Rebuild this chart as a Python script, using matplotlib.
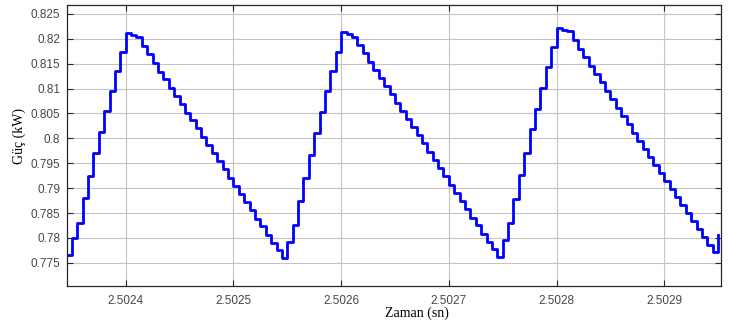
import numpy as np
import matplotlib
matplotlib.use("Agg")
import matplotlib.pyplot as plt

# zaman: 5 mikrosaniye adimla ornekler, 2.50234 sn'den baslar
t0 = 2.50234
dt = 5e-6

# guc degerleri (kW)
rise1 = [0.7782, 0.7766, 0.7799, 0.7830, 0.7880, 0.7925, 0.7971, 0.8013,
         0.8055, 0.8096, 0.8135, 0.8174, 0.8211]
fall1 = [0.8208, 0.8204, 0.8186, 0.8169, 0.8151, 0.8134, 0.8119, 0.8102,
         0.8085, 0.8069, 0.8052, 0.8036, 0.8020, 0.8003, 0.7987, 0.7970,
         0.7954, 0.7938, 0.7921, 0.7905, 0.7888, 0.7872, 0.7856, 0.7839,
         0.7823, 0.7806, 0.7790, 0.7776, 0.7759]
rise2 = [0.7792, 0.7826, 0.7875, 0.7921, 0.7967, 0.8011, 0.8054, 0.8096,
         0.8135, 0.8174, 0.8213]
fall2 = [0.8209, 0.8204, 0.8188, 0.8171, 0.8154, 0.8137, 0.8122, 0.8105,
         0.8089, 0.8072, 0.8056, 0.8039, 0.8023, 0.8006, 0.7990, 0.7973,
         0.7957, 0.7940, 0.7924, 0.7907, 0.7891, 0.7874, 0.7858, 0.7841,
         0.7825, 0.7808, 0.7792, 0.7777, 0.7762]
rise3 = [0.7796, 0.7830, 0.7878, 0.7926, 0.7971, 0.8018, 0.8060, 0.8102,
         0.8143, 0.8183, 0.8221]
fall3 = [0.8218, 0.8216, 0.8198, 0.8180, 0.8163, 0.8145, 0.8129, 0.8113,
         0.8096, 0.8079, 0.8062, 0.8045, 0.8028, 0.8011, 0.7995, 0.7978,
         0.7963, 0.7947, 0.7931, 0.7915, 0.7899, 0.7883, 0.7867, 0.7850,
         0.7834, 0.7818, 0.7802, 0.7786, 0.7771, 0.7806]

power = np.array(rise1 + fall1 + rise2 + fall2 + rise3 + fall3)
time = t0 + dt * np.arange(len(power))

xticks = [2.5024, 2.5025, 2.5026, 2.5027, 2.5028, 2.5029]
yticks = [0.775, 0.78, 0.785, 0.79, 0.795, 0.8, 0.805, 0.81, 0.815, 0.82, 0.825]

fig = plt.figure(figsize=(7.38, 3.22), dpi=100)
ax = fig.add_axes([0.0908, 0.1127, 0.8862, 0.8718])

ax.plot(time, power, color="#0000ff", linewidth=2.0, drawstyle="steps-post")

ax.set_xlim(2.5023455, 2.5029527)
ax.set_ylim(0.7704, 0.8268)
ax.set_xticks(xticks)
ax.set_xticklabels([f"{v:.4f}" for v in xticks])
ax.set_yticks(yticks)
ax.set_yticklabels([f"{v:g}" for v in yticks])

ax.grid(True, color="#c4c4c4", linewidth=0.8)
ax.set_axisbelow(True)
ax.tick_params(direction="in", length=4, width=0.8, top=True, right=True,
               labelsize=8.5, colors="#262626")
ax.tick_params(axis="x", pad=7)
ax.tick_params(axis="y", pad=5)
for lab in ax.get_xticklabels() + ax.get_yticklabels():
    lab.set_family("Liberation Sans")
    lab.set_color("#474747")
for s in ax.spines.values():
    s.set_color("#262626")
    s.set_linewidth(0.9)

ax.set_xlabel("Zaman (sn)", family="Liberation Serif", fontsize=10)
ax.set_ylabel("Güç (kW)", family="Liberation Serif", fontsize=10)
ax.xaxis.set_label_coords(0.535, -0.074)
ax.yaxis.set_label_coords(-0.062, 0.535)

fig.savefig("out.png", dpi=100)
